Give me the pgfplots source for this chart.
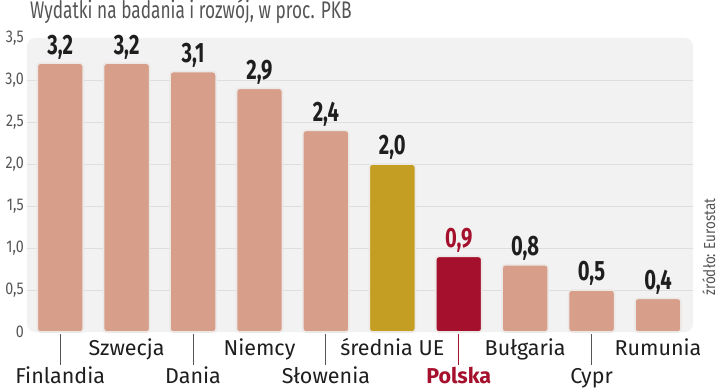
\documentclass[border=0pt]{standalone}
\usepackage{pgfplots}
\pgfplotsset{compat=1.18}
\usepackage{fontspec}
\setmainfont{Fira Sans}
\newfontfamily\condfont[FakeStretch=0.84]{Fira Sans}
\newfontfamily\titlefont[FakeStretch=0.72]{Fira Sans}
\newfontfamily\valfont[FakeStretch=0.72]{Fira Sans Bold}
\definecolor{salmon}{RGB}{215,158,138}
\definecolor{gold}{RGB}{196,158,34}
\definecolor{polred}{RGB}{165,16,45}
\definecolor{bggray}{RGB}{242,242,242}
\definecolor{gridgray}{RGB}{222,222,222}
\definecolor{barborder}{RGB}{236,232,230}
\definecolor{tickgray}{RGB}{85,85,85}
\definecolor{titlegray}{RGB}{85,85,85}
\definecolor{labtext}{RGB}{30,30,30}
\begin{document}
\begin{tikzpicture}
\begin{axis}[
  at={(27pt,59pt)}, anchor=south west,
  scale only axis, width=666pt, height=294pt,
  xmin=-0.5, xmax=9.527, ymin=0, ymax=3.5,
  clip=false,
  axis line style={draw=none},
  axis background/.style={fill=bggray, rounded corners=8pt},
  ytick={0.5,1,1.5,2,2.5,3},
  yticklabels={{0,5},{1,0},{1,5},{2,0},{2,5},{3,0}},
  extra y ticks={0,3.5},
  extra y tick labels={0,{3,5}},
  extra y tick style={grid=none},
  yticklabel style={font=\condfont\fontsize{17}{17}\selectfont, text=tickgray, inner sep=0pt, xshift=-3pt},
  ymajorgrids, grid style={gridgray, line width=0.9pt},
  major tick length=0pt,
  xtick=\empty,
  ybar, bar width=46pt, bar shift=0pt,
  every axis plot/.append style={draw=barborder, line width=1.6pt, rounded corners=3pt},
  nodes near coords, point meta=y,
  nodes near coords style={font=\valfont\fontsize{28}{28}\selectfont, text=labtext, anchor=base, yshift=9pt},
  /pgf/number format/.cd, use comma, fixed, fixed zerofill, precision=1, assume math mode=true,
]
\addplot[fill=salmon] coordinates {(0,3.2) (1,3.2) (2,3.1) (3,2.9) (4,2.4) (7,0.8) (8,0.5) (9,0.4)};
\addplot[fill=gold] coordinates {(5,2.0)};
\addplot[fill=polred, nodes near coords style={text=polred}] coordinates {(6,0.9)};

\draw[tickgray, line width=1pt] ([yshift=-2pt]axis cs:0,0) -- ([yshift=-33pt]axis cs:0,0);
\draw[tickgray, line width=1pt] ([yshift=-2pt]axis cs:2,0) -- ([yshift=-33pt]axis cs:2,0);
\draw[tickgray, line width=1pt] ([yshift=-2pt]axis cs:4,0) -- ([yshift=-33pt]axis cs:4,0);
\draw[tickgray, line width=1pt] ([yshift=-2pt]axis cs:8,0) -- ([yshift=-33pt]axis cs:8,0);
\draw[polred, line width=1pt] ([yshift=-2pt]axis cs:6,0) -- ([yshift=-33pt]axis cs:6,0);

\tikzset{lab/.style={font=\fontsize{21.5}{21.5}\selectfont, text=labtext, anchor=base, inner sep=0pt}}
\node[lab, yshift=-23pt] at (axis cs:1,0) {Szwecja};
\node[lab, yshift=-23pt] at (axis cs:3,0) {Niemcy};
\node[lab, yshift=-23pt] at (axis cs:5,0) {średnia UE};
\node[lab, yshift=-23pt] at (axis cs:7,0) {Bułgaria};
\node[lab, yshift=-23pt] at (axis cs:9,0) {Rumunia};
\node[lab, yshift=-51pt] at (axis cs:0,0) {Finlandia};
\node[lab, yshift=-51pt] at (axis cs:2,0) {Dania};
\node[lab, yshift=-51pt] at (axis cs:4,0) {Słowenia};
\node[lab, yshift=-51pt, font=\bfseries\fontsize{21.5}{21.5}\selectfont, text=polred] at (axis cs:6,0) {Polska};
\node[lab, yshift=-51pt] at (axis cs:8,0) {Cypr};
\end{axis}
\node[anchor=base west, inner sep=0pt, font=\titlefont\fontsize{24}{24}\selectfont, text=titlegray] at (30pt,372pt) {Wydatki na badania i rozwój, w proc. PKB};
\node[anchor=base, rotate=90, inner sep=0pt, font=\condfont\fontsize{16}{16}\selectfont, text=titlegray] at (715pt,144pt) {źródło: Eurostat};
\pgfresetboundingbox
\path (0,0) rectangle (720pt,391pt);
\end{tikzpicture}
\end{document}
